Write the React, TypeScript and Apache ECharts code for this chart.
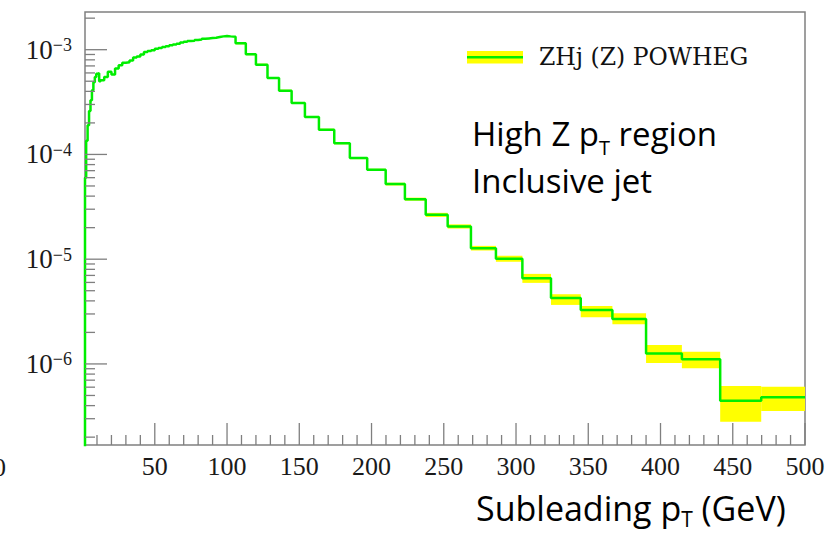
import { useEffect, useRef } from 'react';
import * as echarts from 'echarts';

// ---- axis ranges ----
const X_MIN = 1.7;
const X_MAX = 500;
const Y_MIN = 1.683e-7;
const Y_MAX = 2.29e-3;

// ---- fine binning (0-106 GeV), each edge starts a bin ----
const fineEdges = [
  0, 1.7, 2.5, 3.5, 4.5, 5.5, 6.5, 7.5, 8.5, 9.5, 10.5, 11.5,
  12.5, 15, 17.5, 20, 22.5, 25, 27.5, 30, 32.5, 35, 37.5, 40, 42.5, 45, 47.5,
  50, 52.5, 55, 57.5, 60, 62.5, 65, 67.5, 70, 72.5, 75, 77.5, 80, 82.5, 85,
  87.5, 90, 92.5, 95, 97.5, 100, 102.5,
];
const fineValues = [
  1e-8, 6.0e-5, 1.35e-4, 1.9e-4, 2.6e-4, 3.3e-4, 4.1e-4, 4.9e-4, 5.5e-4, 5.9e-4, 5.95e-4, 5.0e-4,
  5.1e-4, 5.5e-4, 6.15e-4, 5.8e-4, 6.6e-4, 7.1e-4, 7.5e-4, 7.6e-4, 7.9e-4, 8.4e-4,
  8.6e-4, 9.0e-4, 9.5e-4, 9.7e-4, 9.9e-4, 1.02e-3, 1.04e-3, 1.06e-3, 1.08e-3, 1.10e-3,
  1.12e-3, 1.14e-3, 1.17e-3, 1.19e-3, 1.21e-3, 1.22e-3, 1.24e-3, 1.25e-3, 1.27e-3, 1.28e-3,
  1.29e-3, 1.30e-3, 1.32e-3, 1.34e-3, 1.35e-3, 1.34e-3, 1.33e-3,
];

// ---- coarse binning (106-500 GeV) with uncertainty band ----
const coarseEdges = [
  105.9, 113, 120, 128, 136, 144.7, 153.9, 163.6, 174.2, 185, 197, 209.8, 223.1,
  237.5, 252.7, 268.8, 286.1, 304.4, 324.2, 344.8, 366.7, 390, 414.8, 441.3, 469.7, 500,
];
const coarseValues = [
  1.15e-3, 9.06e-4, 7.19e-4, 5.37e-4, 4.06e-4, 3.10e-4, 2.28e-4, 1.72e-4, 1.28e-4,
  9.23e-5, 7.14e-5, 5.21e-5, 3.74e-5, 2.65e-5, 2.05e-5, 1.27e-5, 1.01e-5, 6.59e-6,
  4.25e-6, 3.28e-6, 2.69e-6, 1.26e-6, 1.11e-6, 4.45e-7, 4.81e-7,
];
const coarseHigh = [
  1.175e-3, 9.26e-4, 7.35e-4, 5.49e-4, 4.15e-4, 3.17e-4, 2.33e-4, 1.76e-4, 1.31e-4,
  9.45e-5, 7.30e-5, 5.38e-5, 3.87e-5, 2.77e-5, 2.15e-5, 1.34e-5, 1.076e-5, 7.24e-6,
  4.63e-6, 3.58e-6, 3.05e-6, 1.52e-6, 1.31e-6, 6.17e-7, 6.07e-7,
];
const coarseLow = [
  1.125e-3, 8.86e-4, 7.03e-4, 5.25e-4, 3.97e-4, 3.03e-4, 2.23e-4, 1.68e-4, 1.25e-4,
  9.02e-5, 6.98e-5, 5.04e-5, 3.62e-5, 2.53e-5, 1.96e-5, 1.21e-5, 9.44e-6, 5.94e-6,
  3.66e-6, 2.79e-6, 2.39e-6, 1.02e-6, 9.10e-7, 2.81e-7, 3.56e-7,
];

// ---- ticks ----
const xLabelValues = [50, 100, 150, 200, 250, 300, 350, 400, 450, 500];
const xMinorTicks = [
  10, 20, 30, 40, 60, 70, 80, 90, 110, 120, 130, 140, 160, 170, 180, 190,
  210, 220, 230, 240, 260, 270, 280, 290, 310, 320, 330, 340, 360, 370, 380, 390,
  410, 420, 430, 440, 460, 470, 480, 490,
];
const yMajorTicks = [1e-6, 1e-5, 1e-4, 1e-3];
const yMinorTicks = [
  2e-7, 3e-7, 4e-7, 5e-7, 6e-7, 7e-7, 8e-7, 9e-7,
  2e-6, 3e-6, 4e-6, 5e-6, 6e-6, 7e-6, 8e-6, 9e-6,
  2e-5, 3e-5, 4e-5, 5e-5, 6e-5, 7e-5, 8e-5, 9e-5,
  2e-4, 3e-4, 4e-4, 5e-4, 6e-4, 7e-4, 8e-4, 9e-4,
  2e-3,
];

const legendLabel = 'ZHj (Z) POWHEG';
const noteText = 'High Z p{sub|T} region\nInclusive jet';
const xTitle = 'Subleading p{sub|T} (GeV)';

const GREEN = '#00ee00';
const YELLOW = '#ffff00';
const TICK = '#7f7f7f';

function tickSeries(data: number[][], len: number, dir: 'x' | 'y') {
  return {
    type: 'custom',
    silent: true,
    clip: false,
    z: 6,
    data,
    encode: { x: 0, y: 1 },
    renderItem: (_p: any, api: any) => {
      const p = api.coord([api.value(0), api.value(1)]);
      return {
        type: 'line',
        shape: {
          x1: p[0],
          y1: p[1],
          x2: dir === 'y' ? p[0] + len : p[0],
          y2: dir === 'y' ? p[1] : p[1] - len,
        },
        style: { stroke: TICK, lineWidth: 1.3 },
      };
    },
  };
}

export default function App() {
  const ref = useRef<HTMLDivElement>(null);
  useEffect(() => {
    document.body.style.margin = '0';
    const chart = echarts.init(ref.current!, null, { renderer: 'svg' });

    const edges = [...fineEdges, ...coarseEdges];
    const values = [...fineValues, ...coarseValues];
    const lineData: number[][] = values.map((v, i) => [edges[i], v]);
    lineData.push([edges[edges.length - 1], values[values.length - 1]]);

    const bandData = coarseValues.map((_, i) => [
      coarseEdges[i], coarseEdges[i + 1], coarseLow[i], coarseHigh[i],
    ]);

    const option: any = {
      animation: false,
      grid: {
        left: 85, top: 12, right: 31, bottom: 89,
        show: true, borderColor: '#808080', borderWidth: 1.5, backgroundColor: 'transparent',
      },
      xAxis: {
        type: 'value', min: X_MIN, max: X_MAX,
        axisLine: { show: false }, axisTick: { show: false }, splitLine: { show: false },
        axisLabel: {
          customValues: xLabelValues,
          fontFamily: 'Liberation Serif', fontSize: 26, color: '#1a1a1a', margin: 8,
        },
      },
      yAxis: {
        type: 'log', logBase: 10, min: Y_MIN, max: Y_MAX,
        axisLine: { show: false }, axisTick: { show: false }, splitLine: { show: false },
        axisLabel: {
          margin: 13,
          fontFamily: 'Liberation Serif', fontSize: 27, color: '#1a1a1a',
          formatter: (v: number) => {
            const e = Math.log10(v);
            const r = Math.round(e);
            if (Math.abs(e - r) > 0.01) return '';
            return '10{sup|' + (r < 0 ? '\u2212' + -r : String(r)) + '}';
          },
          rich: {
            sup: { fontFamily: 'Liberation Serif', fontSize: 18, color: '#1a1a1a', verticalAlign: 'top' },
          },
        },
      },
      series: [
        {
          type: 'custom', clip: true, z: 2, silent: true,
          data: bandData,
          encode: { x: [0, 1], y: [2, 3] },
          renderItem: (_p: any, api: any) => {
            const a = api.coord([api.value(0), api.value(3)]);
            const b = api.coord([api.value(1), api.value(2)]);
            return {
              type: 'rect',
              shape: { x: a[0], y: a[1], width: b[0] - a[0], height: b[1] - a[1] },
              style: { fill: YELLOW },
            };
          },
        },
        {
          type: 'line', step: 'end', data: lineData, showSymbol: false, symbol: 'none',
          lineStyle: { color: GREEN, width: 2.5 }, clip: true, z: 4, silent: true,
        },
        tickSeries(yMajorTicks.map((v) => [X_MIN, v]), 22, 'y'),
        tickSeries(yMinorTicks.map((v) => [X_MIN, v]), 10, 'y'),
        tickSeries(xLabelValues.map((v) => [v, Y_MIN]), 22, 'x'),
        tickSeries(xMinorTicks.map((v) => [v, Y_MIN]), 10, 'x'),
      ],
      graphic: [
        { type: 'rect', shape: { x: 467, y: 51, width: 56, height: 12.5 }, style: { fill: YELLOW } },
        { type: 'line', shape: { x1: 467, y1: 57.3, x2: 523, y2: 57.3 }, style: { stroke: GREEN, lineWidth: 2.5 } },
        {
          type: 'text', x: 539, y: 57,
          style: {
            text: legendLabel, fontFamily: 'DejaVu Serif', fontSize: 23.5, fill: '#111',
            verticalAlign: 'middle', textVerticalAlign: 'middle',
          },
        },
        {
          type: 'text', x: 472, y: 110,
          style: {
            text: noteText, fontFamily: 'Open Sans', fontSize: 33, lineHeight: 47, fill: '#000',
            rich: { sub: { fontFamily: 'Open Sans', fontSize: 20, verticalAlign: 'bottom', fill: '#000' } },
          },
        },
        {
          type: 'text', x: 476, y: 487,
          style: {
            text: xTitle, fontFamily: 'Open Sans', fontSize: 34, lineHeight: 42, fill: '#000',
            rich: { sub: { fontFamily: 'Open Sans', fontSize: 21, verticalAlign: 'bottom', fill: '#000' } },
          },
        },
        {
          type: 'text', x: -7, y: 467,
          style: {
            text: '0', fontFamily: 'Liberation Serif', fontSize: 26, fill: '#1a1a1a',
            verticalAlign: 'middle', textVerticalAlign: 'middle',
          },
        },
      ],
    };

    chart.setOption(option);
    return () => chart.dispose();
  }, []);
  return <div ref={ref} style={{ width: 836, height: 534 }} />;
}
